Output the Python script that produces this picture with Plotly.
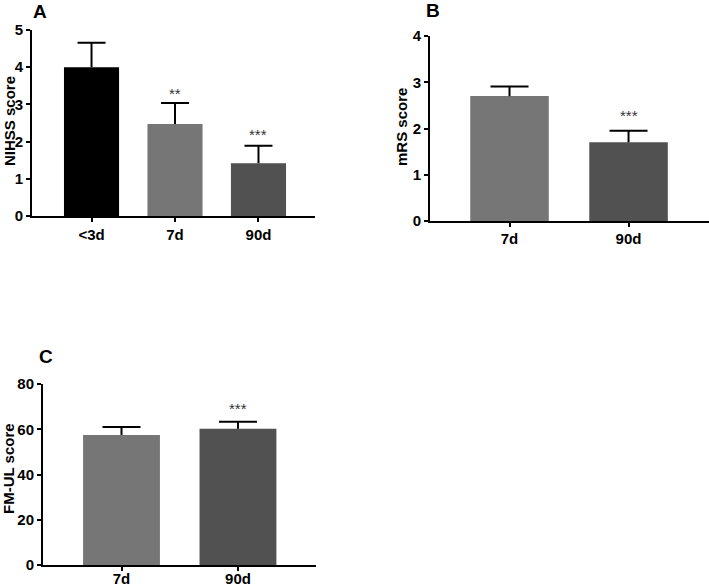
import plotly.graph_objects as go

# Panel A: NIHSS
a_cats = ["<3d", "7d", "90d"]
a_means = [4.0, 2.47, 1.42]
a_err = [0.66, 0.57, 0.47]
a_sig = ["", "**", "***"]

# Panel B: mRS
b_cats = ["7d", "90d"]
b_means = [2.70, 1.70]
b_err = [0.21, 0.25]
b_sig = ["", "***"]

# Panel C: FM-UL
c_cats = ["7d", "90d"]
c_means = [57.5, 60.2]
c_err = [3.5, 3.1]
c_sig = ["", "***"]

colors = {"<3d": "#000000", "7d": "#767676", "90d": "#515151"}

W, H = 709, 587
FONT = "Arial, Liberation Sans, sans-serif"

def xd(a, b):
    return [max(a / W, 0.0), min(b / W, 1.0)]

def yd(top_px, bottom_px):
    return [(H - bottom_px) / H, (H - top_px) / H]

def px(x, y):
    return x / W, (H - y) / H

fig = go.Figure()

panels = [
    dict(key="", cats=a_cats, means=a_means, err=a_err, sig=a_sig, cap=14,
         xdom=xd(32, 315), ydom=yd(30, 216), xr=[-0.713, 2.677], yr=[0, 5], dt=1,
         title="NIHSS score", tx=9, ty=121, label="A", lx=40, ly=11,
         shifts=[0, -1, 1], lstand=0),
    dict(key="2", cats=b_cats, means=b_means, err=b_err, sig=b_sig, cap=19,
         xdom=xd(430, 709), ydom=yd(36, 221), xr=[-0.668, 1.676], yr=[0, 4], dt=1,
         title="mRS score", tx=402, ty=127, label="B", lx=433, ly=10,
         shifts=[0, 5], lstand=-1),
    dict(key="3", cats=c_cats, means=c_means, err=c_err, sig=c_sig, cap=19,
         xdom=xd(43, 316), ydom=yd(384, 565), xr=[-0.674, 1.67], yr=[0, 80], dt=20,
         title="FM-UL score", tx=8, ty=469, label="C", lx=46, ly=357,
         shifts=[0, 3], lstand=-5),
]

for p in panels:
    k = p["key"]
    tops = [m + e for m, e in zip(p["means"], p["err"])]
    fig.add_trace(go.Bar(
        x=p["cats"], y=p["means"],
        marker=dict(color=[colors[c] for c in p["cats"]], line=dict(width=0)),
        width=0.66, xaxis="x" + k, yaxis="y" + k, showlegend=False, hoverinfo="skip",
    ))
    sx, sy = [], []
    for c, m, t in zip(p["cats"], p["means"], tops):
        sx += [c, c, None]
        sy += [m, t, None]
    fig.add_trace(go.Scatter(
        x=sx, y=sy, mode="lines", line=dict(color="#000000", width=2),
        xaxis="x" + k, yaxis="y" + k, showlegend=False, hoverinfo="skip",
    ))
    fig.add_trace(go.Scatter(
        x=p["cats"], y=tops, mode="markers", marker=dict(size=1, opacity=0),
        error_y=dict(type="data", array=[0] * len(tops), color="#000000",
                     thickness=2, width=p["cap"]),
        xaxis="x" + k, yaxis="y" + k, showlegend=False, hoverinfo="skip",
    ))
    xa = dict(domain=p["xdom"], range=p["xr"], anchor="y" + k, type="category",
              categoryorder="array", categoryarray=p["cats"], automargin=False,
              showline=True, linecolor="#000000", linewidth=2,
              ticks="outside", ticklen=4, tickwidth=2, tickcolor="#000000",
              tickfont=dict(family=FONT, size=15, color="#000000", weight="bold"),
              showgrid=False, zeroline=False, fixedrange=True)
    ya = dict(domain=p["ydom"], range=p["yr"], anchor="x" + k, dtick=p["dt"],
              automargin=False,
              showline=True, linecolor="#000000", linewidth=2,
              ticks="outside", ticklen=4, tickwidth=2, tickcolor="#000000",
              tickfont=dict(family=FONT, size=15, color="#000000", weight="bold"),
              showgrid=False, zeroline=False, fixedrange=True)
    fig.update_layout(**{"xaxis" + k: xa, "yaxis" + k: ya})
    if p["lstand"]:
        try:
            fig.update_layout(**{"xaxis" + k: dict(ticklabelstandoff=p["lstand"])})
        except Exception:
            pass
    for c, t, s, sh in zip(p["cats"], tops, p["sig"], p["shifts"]):
        if s:
            fig.add_annotation(x=c, y=t, xref="x" + k, yref="y" + k, text=s,
                               showarrow=False, yanchor="bottom", yshift=sh,
                               font=dict(family=FONT, size=15, color="#333333"))
    tx, ty = px(p["tx"], p["ty"])
    fig.add_annotation(x=tx, y=ty, xref="paper", yref="paper",
                       text="<b>" + p["title"] + "</b>", textangle=-90,
                       showarrow=False, xanchor="center", yanchor="middle",
                       font=dict(family=FONT, size=15, color="#000000"))
    lx, ly = px(p["lx"], p["ly"])
    fig.add_annotation(x=lx, y=ly, xref="paper", yref="paper",
                       text="<b>" + p["label"] + "</b>", showarrow=False,
                       xanchor="center", yanchor="middle",
                       font=dict(family=FONT, size=19, color="#000000"))

fig.update_layout(
    width=W, height=H,
    margin=dict(l=0, r=0, t=0, b=0, autoexpand=False),
    paper_bgcolor="#ffffff", plot_bgcolor="#ffffff",
    hovermode=False,
)

fig.write_html("out.html", config={"displayModeBar": False},
               post_script="document.body.style.margin='0';document.body.style.overflow='hidden';")
